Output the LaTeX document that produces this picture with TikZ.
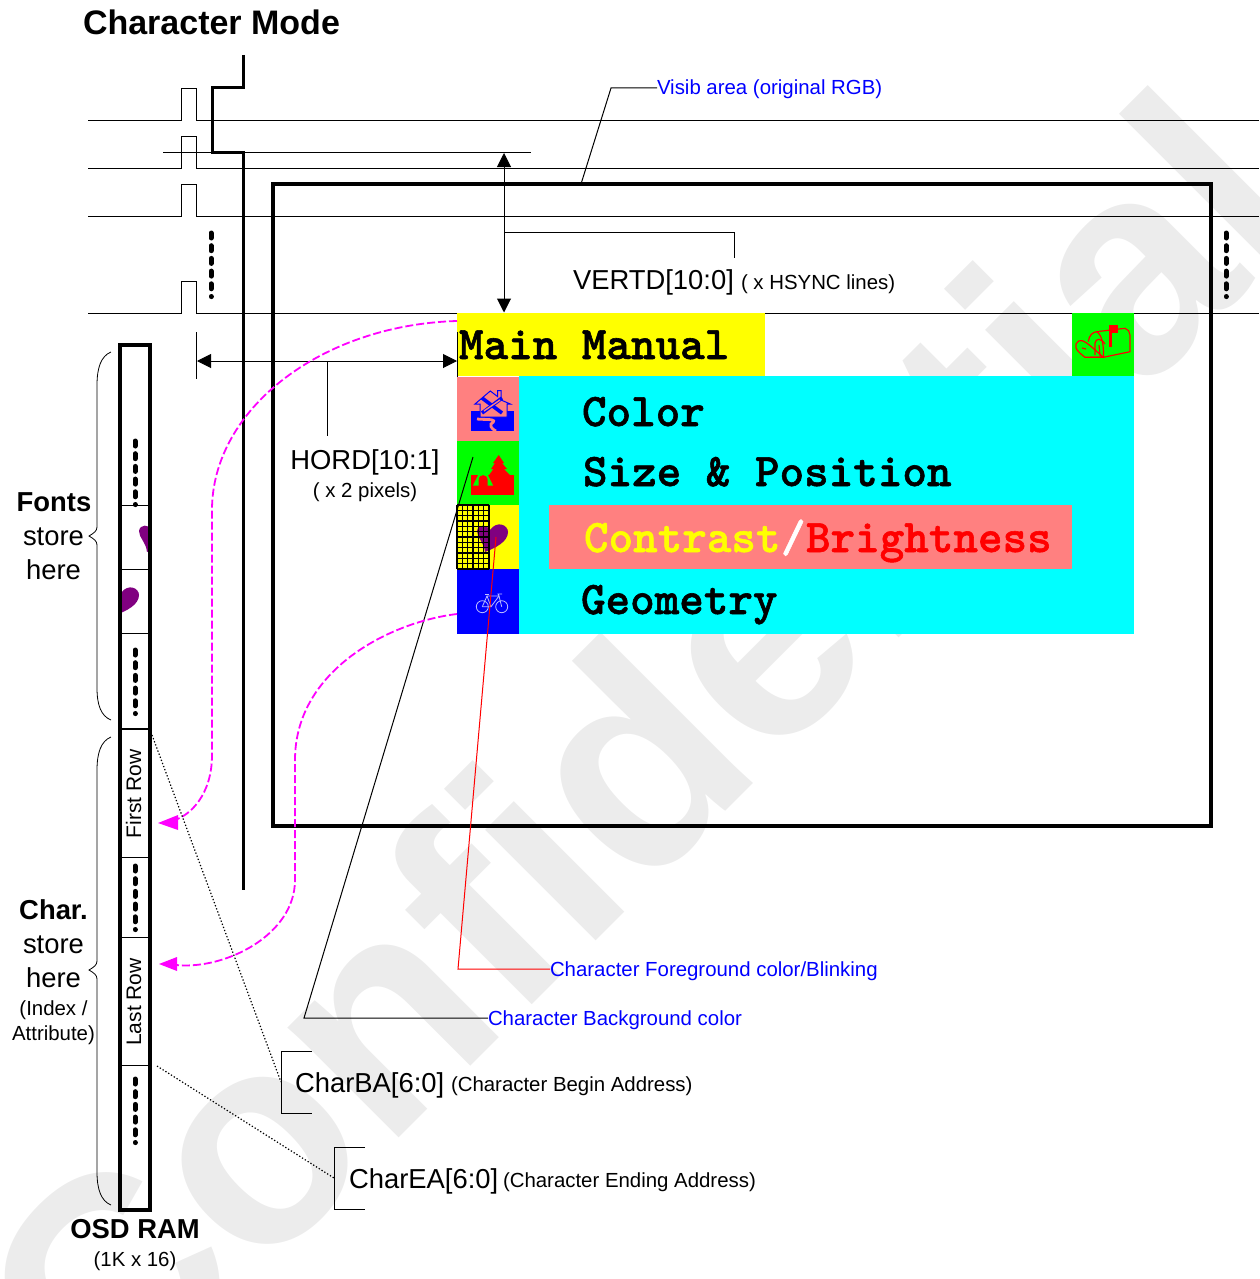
\documentclass[tikz,border=0pt]{standalone}
\usepackage{fontspec}
\setmainfont{Liberation Sans}
\newfontfamily\menufont[FakeBold=1.2]{lmmonolt10-bold.otf}
\usetikzlibrary{arrows.meta}
\newcommand{\pxsize}[1]{\fontsize{#1}{#1}\selectfont}
\definecolor{wm}{gray}{0.925}
\definecolor{pinkfill}{RGB}{255,128,128}
\definecolor{heartc}{RGB}{128,0,128}
\definecolor{bikec}{RGB}{190,190,255}
\definecolor{pcyan}{RGB}{0,255,255}
\definecolor{pmag}{RGB}{255,0,255}
\definecolor{pyellow}{RGB}{255,255,0}
\definecolor{pgreen}{RGB}{0,255,0}
\definecolor{pblue}{RGB}{0,0,255}
\definecolor{pred}{RGB}{255,0,0}
\tikzset{
  txt/.style={inner sep=0pt,outer sep=0pt,anchor=base west},
  ctxt/.style={inner sep=0pt,outer sep=0pt,anchor=base},
  thinline/.style={line width=1pt,black},
  thickline/.style={line width=3pt,black,line join=miter},
  dotrun/.style={line width=5pt,line cap=round,dash pattern=on 5pt off 7.7pt,black},
  menu/.style={txt,font=\pxsize{46.8}\menufont},
  magline/.style={line width=1.8pt,pmag,dash pattern=on 8pt off 3pt},
  dim/.style={thinline,{Triangle[length=14pt,width=14pt]}-{Triangle[length=14pt,width=14pt]}},
  dotted leader/.style={line width=1.2pt,dash pattern=on 1.3pt off 2pt},
  brace/.style={line width=0.8pt,black},
  blue label/.style={inner sep=0pt,outer sep=0pt,anchor=west,font=\pxsize{20.4},text=pblue,text height=15pt,text depth=1pt},
}
\newcommand{\heartpath}{(485,552) .. controls (495,548) and (508,542) .. (508,532) .. controls (508,525) and (497,520) .. (490,530) .. controls (487,524) and (478,524) .. (477,531) .. controls (477,538) and (484,542) .. (485,552) -- cycle}
\begin{document}
\begin{tikzpicture}[x=1pt,y=-1pt]
\useasboundingbox (0,0) rectangle (1259,1279);
\begin{scope}
\clip (0,0) rectangle (1259,1279);
\node[rotate=45,inner sep=0pt,anchor=base west,text=wm,font=\pxsize{296}\bfseries] (watermark) at (105,1432) {Confidential};
\end{scope}
% title
\node[txt,font=\pxsize{34}\bfseries] (title) at (83,35) {Character Mode};
% HSYNC lines
\foreach \y in {120.5,168.5,216.5,313}{
  \draw[thinline] (88,\y) -- (181,\y) -- (181,\y-32) -- (196,\y-32) -- (196,\y) -- (1259,\y);
}
% VSYNC
\draw[thickline] (243,55) -- (243,88) -- (212,88) -- (212,152) -- (243,152) -- (243,890);
\coordinate (vstartL) at (163,152.5); \coordinate (vstartR) at (531,152.5);
\draw[thinline] (vstartL) -- (vstartR);
\draw[dotrun] (211,233) -- (211,296.6);
\draw[dotrun] (1226,233) -- (1226,296.6);
% visible area
\node[draw,line width=4.2pt,outer sep=0pt,minimum width=938pt,minimum height=642pt,inner sep=0pt,anchor=north west] (visarea) at (273,184) {};
% menu fills
\fill[pyellow] (457,313) rectangle (765,376);
\fill[pgreen]  (1072,313) rectangle (1134,377);
\fill[pcyan]   (519,376) rectangle (1134,634);
\fill[pinkfill] (457,377) rectangle (519,441);
\fill[pgreen]  (457,441) rectangle (519,505);
\fill[pyellow] (457,505) rectangle (519,569);
\fill[pblue]   (457,569) rectangle (519,634);
\fill[pinkfill] (549,505) rectangle (1072,569);
% menu text
\node[menu] (mainmanual) at (459,359) {Main Manual};
\node[menu] (color) at (582,426) {Color};
\node[menu] (size) at (583,486) {Size \& Position};
\node[menu,text=pyellow] (contrast) at (584,552) {Contrast};
\node[menu,text=white] (slash) at (781,552) {/};
\node[menu,text=pred] (bright) at (806,552) {Brightness};
\node[menu] (geometry) at (581,614) {Geometry};
% house icon
\fill[pblue] (471,410.7) rectangle (513.7,430.7);
\draw[pblue,line width=1pt,fill=pinkfill] (475,404) -- (490.3,391) -- (497.5,396.5) -- (497.5,390.5) -- (501,390.5) -- (501,400) -- (510.3,404) -- (507,404) -- (507,417) -- (480,417) -- (480,404) -- cycle;
\draw[pinkfill,line width=2.8pt] (477,419) .. controls (484,420) and (500,418) .. (491,424) .. controls (490,428) and (494,430) .. (496,431);
\draw[pblue,line width=3.6pt] (482,413) -- (502,398);
\draw[pblue,line width=3.6pt] (482,398) -- (502,413);
\draw[pinkfill,line width=1.4pt] (484,411) -- (500,400);
% tree/tent icon
\fill[pred] (471,475) rectangle (513.7,495);
\fill[pred] (498.7,455) -- (504,463) -- (502,463) -- (507,469) -- (504,469) -- (510.3,475.5) -- (488.7,475.5) -- (493.5,469) -- (491,469) -- (495,463) -- (493,463) -- cycle;
\fill[pred] (496.7,475) rectangle (500.7,478);
\fill[pgreen] (483,465) -- (473,485.5) -- (493,485.5) -- cycle;
\fill[pred] (478.7,486) -- (478.7,480) .. controls (479,473.5) and (487,473.5) .. (487.7,480) -- (487.7,486) -- cycle;
% heart and grid
\fill[heartc] \heartpath;
\foreach \k in {0,...,6}{ \draw[black,line width=1.3pt] (457+\k*5.33,505) -- (457+\k*5.33,569); }
\foreach \k in {0,...,12}{ \draw[black,line width=1.3pt] (457,505+\k*5.33) -- (489,505+\k*5.33); }
% bicycle icon
\begin{scope}[bikec,line width=0.8pt]
\draw (482.3,606.7) circle (6); \draw (501.7,606.7) circle (6);
\draw (482.3,606.7) -- (487,596) -- (499,596) -- (501.7,606.7);
\draw (482.3,606.7) -- (491,606.7) -- (499,596);
\draw (487,596) -- (491,606.7);
\draw (485,594.5) -- (489,594.5); \draw (499,596) -- (498,594) -- (502,594);
\end{scope}
% mailbox icon
\begin{scope}[pred,line width=1.2pt]
\draw (1088.3,341.7) .. controls (1089,335) and (1093,332) .. (1096.7,331.7) -- (1125,328.3) .. controls (1128,329) and (1130,332) .. (1130,335) -- (1130,351.7) -- (1103.3,357.3) -- (1090,357.3);
\draw (1096.7,331.7) .. controls (1102,335) and (1104,345) .. (1103.3,357.3);
\draw (1095,355) -- (1095,343) .. controls (1096,338) and (1101,338) .. (1105,344);
\draw (1099,345) -- (1100,356);
\draw (1076,344) .. controls (1077,341) and (1080,340) .. (1082,340.7) .. controls (1087,342) and (1095,350) .. (1103.3,357.3) -- (1085,357.3) .. controls (1082,355) and (1077,351) .. (1076,348) -- cycle;
\draw (1082,348) -- (1086,349);
\fill (1109,325) rectangle (1117.7,333.3);
\fill (1109,333) -- (1112.3,333) -- (1112.3,346.7) -- (1109,346.7) -- cycle;
\end{scope}
% dimension arrows
\coordinate (vtop) at (504,153); \coordinate (vbot) at (504,312.5);
\draw[dim] (vtop) -- (vbot);
\coordinate (vbranch) at (504,232.5);
\draw[thinline] (vbranch) -- (734,232.5) -- (734,258);
\node[txt,font=\pxsize{27.4}] (vertd) at (573,289) {VERTD[10:0]};
\node[txt,font=\pxsize{20.4}] (vertdunit) at (741,289) {( x HSYNC lines)};
\coordinate (hstartT) at (196.5,332); \coordinate (hstartB) at (196.5,379);
\draw[thinline] (hstartT) -- (hstartB);
\coordinate (hendT) at (457.5,332); \coordinate (hendB) at (457.5,377);
\draw[thinline] (hendT) -- (hendB);
\coordinate (hl) at (197,361); \coordinate (hr) at (457,361);
\draw[dim] (hl) -- (hr);
\coordinate (hbranch) at (327,361);
\draw[thinline] (hbranch) -- (327,436);
\node[ctxt,font=\pxsize{27.4}] (hord) at (365,469) {HORD[10:1]};
\node[ctxt,font=\pxsize{20.4}] (hordunit) at (365,497) {( x 2 pixels)};
% visib leader
\node[blue label] (visib) at (657,88) {Visib area (original RGB)};
\coordinate (visedge) at (581,184);
\draw[thinline] (visedge) -- (611,88) -- (visib.west);
% leaders
\node[blue label] (fgcol) at (550,969) {Character Foreground color/Blinking};
\node[blue label] (bgcol) at (488,1018) {Character Background color};
\coordinate (fgstart) at (496,537); \coordinate (bgstart) at (473,457);
\draw[pred,line width=1pt] (fgstart) -- (458,969) -- (fgcol.west);
\draw[thinline] (bgstart) -- (304,1018) -- (bgcol.west);
% RAM column
\begin{scope}
\clip (120,505) rectangle (150,569);
\fill[heartc,shift={(-338,0)}] \heartpath;
\end{scope}
\begin{scope}
\clip (120,569) rectangle (150,633);
\fill[heartc,shift={(-369,63)}] \heartpath;
\end{scope}
\node[draw,line width=4.2pt,outer sep=0pt,minimum width=30pt,minimum height=865pt,inner sep=0pt,anchor=north west] (ram) at (120,345) {};
\foreach \y in {505,569,633,857,937,1065}{ \draw[line width=0.9pt] (120,\y) -- (150,\y); }
\draw[line width=2.6pt] (120,729) -- (150,729);
\draw[dotrun] (135,441) -- (135,504.6);
\draw[dotrun] (135,650) -- (135,713.6);
\draw[dotrun] (135,866) -- (135,929.6);
\draw[dotrun] (135,1079) -- (135,1142.6);
\node[ctxt,rotate=90,font=\pxsize{21}] (firstrow) at (141,794) {First Row};
\node[ctxt,rotate=90,font=\pxsize{21}] (lastrow) at (141,1002) {Last Row};
% braces
\draw[brace] (111,352) .. controls (101,356) and (97,368) .. (97,385) -- (97,527) .. controls (97,531) and (94,533) .. (89,536) .. controls (94,539) and (97,541) .. (97,545) -- (97,688) .. controls (97,705) and (101,716) .. (111,720);
\draw[brace] (111,737) .. controls (101,741) and (97,753) .. (97,770) -- (97,961) .. controls (97,965) and (94,967) .. (89,970) .. controls (94,973) and (97,975) .. (97,979) -- (97,1172) .. controls (97,1189) and (101,1201) .. (111,1205);
% side labels
\node[ctxt,font=\pxsize{27.4}\bfseries] (fonts) at (54,511) {Fonts};
\node[ctxt,font=\pxsize{27.4}] (store1) at (53.5,545) {store};
\node[ctxt,font=\pxsize{27.4}] (here1) at (53.5,579) {here};
\node[ctxt,font=\pxsize{27.4}\bfseries] (char) at (53.5,919) {Char.};
\node[ctxt,font=\pxsize{27.4}] (store2) at (53.5,953) {store};
\node[ctxt,font=\pxsize{27.4}] (here2) at (53.5,987) {here};
\node[ctxt,font=\pxsize{20.4}] (index) at (53.5,1015) {(Index /};
\node[ctxt,font=\pxsize{20.4}] (attr) at (53.5,1040) {Attribute)};
\node[ctxt,font=\pxsize{27.4}\bfseries] (osd) at (135,1238) {OSD RAM};
\node[ctxt,font=\pxsize{20.4}] (osdsize) at (135,1266) {(1K x 16)};
% magenta curves
\coordinate (m1s) at (457,321); \coordinate (m1e) at (158,823);
\coordinate (m2s) at (457,614); \coordinate (m2e) at (159,964);
\draw[magline] (m1s) .. controls (320,325) and (212,410) .. (212,510) -- (212,755) .. controls (212,795) and (190,815) .. (175,820);
\fill[pmag] (m1e) -- (178,815) -- (178,830) -- cycle;
\draw[magline] (m2s) .. controls (390,622) and (295,670) .. (295,760) -- (295,880) .. controls (295,935) and (225,970) .. (176,965);
\fill[pmag] (m2e) -- (177,957) -- (177,971) -- cycle;
% address brackets
\draw[thinline] (312,1051) -- (281,1051) -- (281,1113) -- (312,1113);
\draw[thinline] (365,1147) -- (334,1147) -- (334,1209) -- (365,1209);
\coordinate (baL) at (281,1082); \coordinate (eaL) at (334,1178);
\coordinate (ramA) at (152,735); \coordinate (ramB) at (157,1066);
\draw[dotted leader] (ramA) -- (baL);
\draw[dotted leader] (ramB) -- (eaL);
\node[txt,font=\pxsize{27.4}] (charba) at (295,1092) {CharBA[6:0]};
\node[txt,font=\pxsize{20.4}] (charbadesc) at (451,1091) {(Character Begin Address)};
\node[txt,font=\pxsize{27.4}] (charea) at (349,1188) {CharEA[6:0]};
\node[txt,font=\pxsize{20.4}] (chareadesc) at (503,1187) {(Character Ending Address)};
\end{tikzpicture}
\end{document}
